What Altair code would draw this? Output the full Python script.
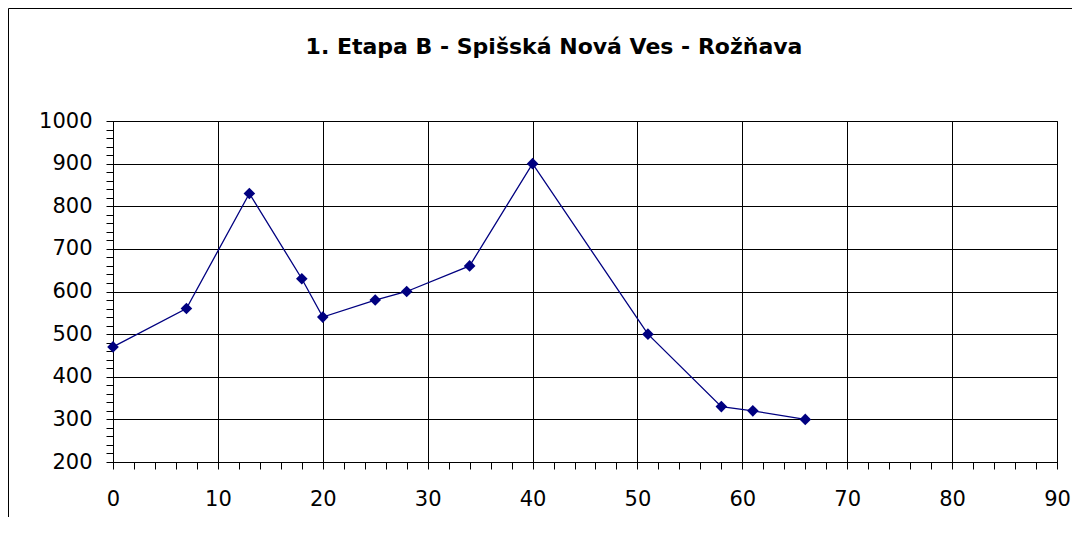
import altair as alt
import pandas as pd

# ---- data ----
km = [0, 7, 13, 18, 20, 25, 28, 34, 40, 51, 58, 61, 66]
altitude = [470, 560, 830, 630, 540, 580, 600, 660, 900, 500, 330, 320, 300]
title_text = "1. Etapa B - Spišská Nová Ves - Rožňava"
x_tick_values = list(range(0, 91, 2))
y_tick_values = list(range(200, 1001, 20))

W, H = 944, 341
PAD_L, PAD_T, PAD_R, PAD_B = 105, 113, 15, 55

df = pd.DataFrame({"km": km, "alt": altitude})
one = pd.DataFrame({"a": [1]})

x_scale = alt.Scale(domain=[0, 90], nice=False, zero=False)
y_scale = alt.Scale(domain=[200, 1000], nice=False, zero=False)

x_axis = alt.Axis(
    values=x_tick_values,
    title=None,
    format="d",
    labelExpr="datum.value % 10 === 0 ? datum.label : ''",
    gridOpacity={"condition": {"test": "datum.value % 10 === 0", "value": 1}, "value": 0},
    tickSize=7,
    labelPadding=19,
    labelAngle=0,
    labelOverlap=False,
    labelFlush=False,
)
y_axis = alt.Axis(
    values=y_tick_values,
    title=None,
    format="d",
    labelExpr="datum.value % 100 === 0 ? datum.label : ''",
    gridOpacity={"condition": {"test": "datum.value % 100 === 0", "value": 1}, "value": 0},
    tickSize=7,
    labelPadding=14,
    labelOverlap=False,
    labelFlush=False,
)

base = alt.Chart(df).encode(
    x=alt.X("km:Q", scale=x_scale, axis=x_axis),
    y=alt.Y("alt:Q", scale=y_scale, axis=y_axis),
)
line = base.mark_line(color="#000080", strokeWidth=1.3)
points = base.mark_point(shape="diamond", filled=True, size=135, color="#000080", opacity=1)

frame = alt.Chart(one).mark_rect(fillOpacity=0, stroke="black", strokeWidth=1).encode(
    x=alt.value(-PAD_L + 0.5),
    x2=alt.value(W + PAD_R + 20),
    y=alt.value(-PAD_T + 0.5),
    y2=alt.value(H + PAD_B + 20),
)

title = alt.Chart(one).mark_text(
    text=title_text,
    font="DejaVu Sans",
    fontSize=22,
    fontWeight="bold",
    color="black",
    align="center",
    baseline="middle",
).encode(x=alt.value(441), y=alt.value(-74))

chart = alt.layer(frame, title, line, points).properties(
    width=W,
    height=H,
    padding={"left": PAD_L, "top": PAD_T, "right": PAD_R, "bottom": PAD_B},
    autosize=alt.AutoSizeParams(type="none"),
).configure_view(
    stroke="black", strokeWidth=1
).configure_axis(
    domainColor="black",
    domainWidth=1,
    tickColor="black",
    tickWidth=1,
    gridColor="black",
    gridWidth=1,
    labelColor="black",
    labelFont="DejaVu Sans",
    labelFontSize=21,
)

chart.save("out.html", embed_options={"renderer": "svg", "actions": False})
